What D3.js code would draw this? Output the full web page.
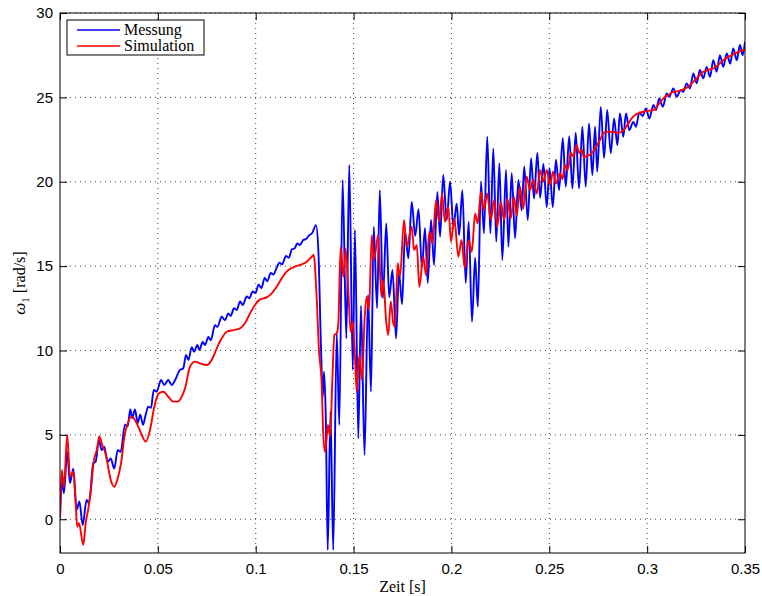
<html>
<head>
	<meta charset="UTF-8">
	<title>Messung vs. Simulation</title>
	<style>
		body { margin: 0; background: #fff; }
		.tick text { font-family: "Liberation Sans", Arial, sans-serif; font-size: 15px; fill: #000; }
		.grid line { stroke: #444; stroke-width: 1; stroke-dasharray: 1,4; }
		.label { font-family: "Liberation Serif", "Times New Roman", serif; font-size: 16px; }
	</style>
</head>
<body>
	<script src="https://cdnjs.cloudflare.com/ajax/libs/d3/7.8.5/d3.min.js"></script>
	<script>
		// Messung
		var messungT = [0, 0.0009, 0.0020, 0.0037, 0.0051, 0.0068, 0.0085, 0.0099, 0.0116, 0.0136, 0.0148, 0.0170, 0.0182, 0.0199,
			0.0213, 0.0226, 0.0244, 0.0259, 0.0277, 0.0295, 0.0310, 0.0332, 0.0346, 0.0359, 0.0369, 0.0383, 0.0397, 0.0410,
			0.0424, 0.0438, 0.0451, 0.0465, 0.0479, 0.0494, 0.0516, 0.0533, 0.0553, 0.0571, 0.0588, 0.0613, 0.0630, 0.0644,
			0.0656, 0.0673, 0.0685, 0.0702, 0.0712, 0.0729, 0.0741, 0.0758, 0.0770, 0.0792, 0.0804, 0.0826, 0.0843, 0.0860,
			0.0872, 0.0889, 0.0903, 0.0920, 0.0934, 0.0954, 0.0967, 0.0985, 0.0998, 0.1015, 0.1029, 0.1046, 0.1059, 0.1077,
			0.1090, 0.1107, 0.1121, 0.1134, 0.1155, 0.1169, 0.1185, 0.1199, 0.1212, 0.1226, 0.1243, 0.1257, 0.1274, 0.1288,
			0.1308, 0.1320, 0.1333, 0.1343, 0.1349, 0.1358, 0.1368, 0.1382, 0.1396, 0.1414, 0.1427, 0.1444, 0.1463, 0.1478,
			0.1496, 0.1507, 0.1524, 0.1538, 0.1556, 0.1574, 0.1589, 0.1603, 0.1620, 0.1634, 0.1650, 0.1667, 0.1682, 0.1699,
			0.1717, 0.1732, 0.1748, 0.1763, 0.1780, 0.1797, 0.1815, 0.1832, 0.1849, 0.1865, 0.1879, 0.1896, 0.1911, 0.1928,
			0.1942, 0.1958, 0.1976, 0.1993, 0.2010, 0.2027, 0.2039, 0.2056, 0.2073, 0.2088, 0.2105, 0.2121, 0.2135, 0.2151,
			0.2166, 0.2183, 0.2199, 0.2214, 0.2229, 0.2245, 0.2260, 0.2279, 0.2291, 0.2308, 0.2325, 0.2342, 0.2359, 0.2372,
			0.2390, 0.2407, 0.2422, 0.2439, 0.2453, 0.2470, 0.2487, 0.2501, 0.2518, 0.2534, 0.2550, 0.2569, 0.2584, 0.2602,
			0.2618, 0.2635, 0.2652, 0.2669, 0.2686, 0.2703, 0.2720, 0.2734, 0.2745, 0.2763, 0.2780, 0.2796, 0.2814, 0.2831,
			0.2848, 0.2861, 0.2878, 0.2892, 0.2909, 0.2929, 0.2943, 0.2960, 0.2977, 0.2994, 0.3011, 0.3032, 0.3045, 0.3062,
			0.3080, 0.3100, 0.3113, 0.3134, 0.3151, 0.3172, 0.3185, 0.3202, 0.3219, 0.3236, 0.3253, 0.3270, 0.3287, 0.3304,
			0.3321, 0.3338, 0.3355, 0.3372, 0.3389, 0.3407, 0.3424, 0.3440, 0.3458, 0.3474, 0.3488, 0.3500];
		var messungW = [0.06, 2.3, 1.55, 4.0, 2.15, 3.0, 0.55, 1.05, -0.34, 1.15, 0.95, 3.33, 3.4, 4.7,
			4.1, 4.3, 3.4, 3.6, 3.0, 4.1, 4.0, 5.6, 5.5, 6.5, 6.0, 6.5, 5.7, 6.2,
			5.6, 6.2, 6.67, 6.6, 7.66, 7.56, 8.25, 7.96, 8.25, 7.96, 8.25, 8.85, 8.95, 9.73,
			9.44, 10.2, 9.93, 10.33, 10.03, 10.5, 10.33, 10.8, 10.6, 11.5, 11.4, 12.0, 11.8, 12.2,
			12.05, 12.5, 12.4, 12.9, 12.7, 13.2, 13.1, 13.5, 13.4, 13.9, 13.7, 14.3, 14.1, 14.6,
			14.5, 14.9, 15.2, 15.1, 15.6, 15.5, 16.0, 16.05, 16.35, 16.25, 16.55, 16.6, 16.84, 16.95,
			17.43, 15.95, 10.43, 7.26, 8.74, 6.08, -1.82, 6.37, -1.82, 11.0, 5.59, 20.1, 10.72, 21.0,
			8.85, 17.14, 4.8, 12.65, 3.81, 13.29, 7.56, 17.33, 12.5, 19.5, 13.1, 17.53, 13.15, 14.77,
			10.72, 14.6, 12.75, 17.03, 15.46, 18.8, 16.8, 18.37, 14.9, 17.24, 14.0, 17.73, 15.06, 19.4,
			16.74, 20.4, 17.73, 20.0, 17.33, 18.7, 16.84, 19.5, 14.0, 17.63, 11.7, 15.5, 12.6, 20.0,
			16.94, 22.67, 16.94, 21.98, 16.45, 21.1, 15.36, 20.7, 16.15, 20.5, 16.65, 20.1, 18.3, 20.9,
			17.73, 21.4, 19.0, 21.7, 19.05, 21.05, 18.5, 20.8, 18.5, 21.3, 19.5, 22.6, 19.7, 22.7,
			19.6, 22.9, 19.6, 23.26, 19.7, 23.46, 20.4, 23.26, 20.6, 24.44, 21.4, 24.25, 21.7, 23.75,
			22.17, 24.05, 22.67, 24.05, 23.06, 23.55, 23.26, 24.1, 23.9, 24.35, 23.75, 24.55, 24.25, 24.94,
			24.44, 25.24, 25.04, 25.53, 25.04, 25.43, 25.33, 25.83, 25.53, 26.42, 25.83, 26.62, 26.13, 26.81,
			26.22, 27.2, 26.52, 27.5, 26.81, 27.6, 27.0, 27.9, 27.2, 28.1, 27.5, 28.3];

		// Simulation
		var simT = [0, 0.0009, 0.0020, 0.0037, 0.0051, 0.0068, 0.0080, 0.0088, 0.0097, 0.0119, 0.0131, 0.0145, 0.0158, 0.0172,
			0.0188, 0.0201, 0.0216, 0.0230, 0.0244, 0.0257, 0.0277, 0.0295, 0.0312, 0.0329, 0.0346, 0.0366, 0.0392, 0.0414,
			0.0438, 0.0460, 0.0482, 0.0506, 0.0528, 0.0553, 0.0579, 0.0601, 0.0622, 0.0639, 0.0664, 0.0690, 0.0715, 0.0750,
			0.0775, 0.0801, 0.0826, 0.0852, 0.0886, 0.0920, 0.0945, 0.0971, 0.0996, 0.1022, 0.1056, 0.1082, 0.1107, 0.1133,
			0.1158, 0.1192, 0.1226, 0.1261, 0.1286, 0.1296, 0.1312, 0.1323, 0.1337, 0.1345, 0.1354, 0.1363, 0.1369, 0.1380,
			0.1391, 0.1402, 0.1414, 0.1422, 0.1434, 0.1448, 0.1460, 0.1473, 0.1485, 0.1496, 0.1507, 0.1516, 0.1529, 0.1543,
			0.1557, 0.1567, 0.1579, 0.1593, 0.1604, 0.1626, 0.1642, 0.1652, 0.1666, 0.1677, 0.1690, 0.1703, 0.1712, 0.1725,
			0.1737, 0.1758, 0.1771, 0.1797, 0.1809, 0.1823, 0.1836, 0.1856, 0.1870, 0.1887, 0.1904, 0.1921, 0.1937, 0.1952,
			0.1967, 0.1984, 0.1998, 0.2015, 0.2035, 0.2052, 0.2068, 0.2088, 0.2104, 0.2121, 0.2134, 0.2151, 0.2166, 0.2183,
			0.2201, 0.2218, 0.2234, 0.2252, 0.2269, 0.2286, 0.2303, 0.2320, 0.2334, 0.2350, 0.2367, 0.2385, 0.2401, 0.2418,
			0.2436, 0.2453, 0.2469, 0.2487, 0.2504, 0.2519, 0.2534, 0.2555, 0.2567, 0.2580, 0.2594, 0.2610, 0.2623, 0.2640,
			0.2653, 0.2666, 0.2677, 0.2694, 0.2708, 0.2722, 0.2739, 0.2759, 0.2776, 0.2793, 0.2810, 0.2831, 0.2853, 0.2870,
			0.2887, 0.2904, 0.2921, 0.2938, 0.2955, 0.2980, 0.3006, 0.3032, 0.3057, 0.3083, 0.3108, 0.3134, 0.3160, 0.3185,
			0.3210, 0.3236, 0.3261, 0.3287, 0.3312, 0.3338, 0.3363, 0.3389, 0.3415, 0.3440, 0.3466, 0.3500];
		var simW = [0.06, 2.92, 1.93, 5.0, 2.52, 2.82, 0.95, -0.44, -0.24, -1.52, -0.24, 0.65, 1.74, 3.41,
			4.1, 4.9, 4.4, 4.0, 3.22, 2.43, 1.93, 2.43, 3.32, 4.9, 5.69, 6.08, 5.69, 5.1,
			4.6, 5.29, 6.67, 7.46, 7.56, 7.26, 6.97, 6.97, 7.26, 7.76, 9.04, 9.34, 9.24, 9.14,
			9.44, 10.13, 10.72, 11.11, 11.21, 11.31, 11.61, 12.2, 12.7, 13.03, 13.15, 13.39, 13.78, 14.28,
			14.67, 14.93, 15.07, 15.26, 15.56, 15.66, 13.0, 10.03, 8.06, 5.1, 4.0, 4.9, 5.59, 4.9,
			8.06, 10.92, 11.02, 11.61, 16.15, 14.37, 16.05, 13.58, 11.11, 11.7, 9.63, 7.56, 9.73, 8.25,
			12.0, 13.19, 12.4, 16.84, 15.36, 16.84, 13.19, 14.18, 11.8, 10.92, 12.9, 11.61, 11.4, 15.17,
			14.37, 17.73, 16.15, 17.33, 15.95, 16.25, 13.78, 15.56, 14.47, 17.04, 16.35, 18.9, 17.63, 19.3,
			17.63, 18.5, 16.45, 17.83, 15.56, 16.55, 14.87, 16.55, 15.85, 18.1, 17.53, 19.4, 18.3, 19.3,
			17.73, 18.9, 17.33, 18.8, 17.73, 19.0, 17.83, 19.1, 18.0, 19.7, 18.42, 20.3, 19.5, 20.1,
			19.3, 20.7, 20.0, 20.7, 19.8, 20.6, 19.9, 20.5, 20.15, 21.0, 20.7, 21.7, 21.5, 22.17,
			21.7, 21.9, 21.45, 21.55, 21.6, 21.75, 22.07, 22.47, 22.87, 22.96, 22.96, 22.93, 22.9, 22.96,
			23.16, 23.46, 23.75, 23.95, 24.05, 24.15, 24.2, 24.25, 24.55, 24.94, 25.14, 25.33, 25.37, 25.47,
			25.63, 25.92, 26.22, 26.52, 26.62, 26.72, 26.92, 27.2, 27.4, 27.55, 27.7, 27.84];

		var xTicks = [0, 0.05, 0.1, 0.15, 0.2, 0.25, 0.3, 0.35];
		var xTickLabels = ["0", "0.05", "0.1", "0.15", "0.2", "0.25", "0.3", "0.35"];
		var yTicks = [0, 5, 10, 15, 20, 25, 30];
		var yTickLabels = ["0", "5", "10", "15", "20", "25", "30"];
		var seriesNames = ["Messung", "Simulation"];
		var seriesColors = ["#0000ff", "#ff0000"];

		var margin = {top: 13, right: 17, bottom: 43, left: 60},
			width = 762 - margin.left - margin.right,
			height = 596 - margin.top - margin.bottom;

		var x = d3.scaleLinear().domain([0, 0.35]).range([0, width]);
		var y = d3.scaleLinear().domain([-2, 30]).range([height, 0]);

		var svg = d3.select("body").append("svg")
			.attr("width", 762)
			.attr("height", 596)
			.append("g")
				.attr("transform", "translate(" + margin.left + "," + margin.top + ")");

		svg.append("clipPath").attr("id", "plot-clip")
			.append("rect").attr("width", width).attr("height", height);

		// dotted grid
		var grid = svg.append("g").attr("class", "grid");
		grid.selectAll(".gx").data(xTicks.slice(1, -1)).enter().append("line")
			.attr("x1", function(d) { return x(d); }).attr("x2", function(d) { return x(d); })
			.attr("y1", 0).attr("y2", height);
		grid.selectAll(".gy").data(yTicks).enter().append("line")
			.attr("y1", function(d) { return y(d); }).attr("y2", function(d) { return y(d); })
			.attr("x1", 0).attr("x2", width);

		var line = d3.line()
			.x(function(d) { return x(d[0]); })
			.y(function(d) { return y(d[1]); })
			.curve(d3.curveMonotoneX);

		var series = [d3.zip(messungT, messungW), d3.zip(simT, simW)];

		svg.append("g").attr("clip-path", "url(#plot-clip)")
			.selectAll("path")
			.data(series)
			.enter().append("path")
			.attr("d", line)
			.attr("fill", "none")
			.attr("stroke", function(d, i) { return seriesColors[i]; })
			.attr("stroke-width", 1.9)
			.attr("stroke-linejoin", "round");

		// axes, ticks pointing inward like matlab
		svg.append("g")
			.attr("transform", "translate(0," + height + ")")
			.call(d3.axisBottom(x).tickValues(xTicks)
				.tickFormat(function(d, i) { return xTickLabels[i]; })
				.tickSize(-7).tickPadding(10));
		svg.append("g")
			.call(d3.axisLeft(y).tickValues(yTicks)
				.tickFormat(function(d, i) { return yTickLabels[i]; })
				.tickSize(-7).tickPadding(7));
		svg.append("g")
			.call(d3.axisTop(x).tickValues(xTicks).tickFormat("").tickSize(-7));
		svg.append("g")
			.attr("transform", "translate(" + width + ",0)")
			.call(d3.axisRight(y).tickValues(yTicks).tickFormat("").tickSize(-7));

		svg.selectAll(".domain").remove();
		svg.selectAll(".tick line").attr("stroke", "#000");
		svg.append("rect")
			.attr("width", width).attr("height", height)
			.attr("fill", "none").attr("stroke", "#000").attr("stroke-width", 1);

		// axis labels
		svg.append("text").attr("class", "label")
			.attr("x", width / 2).attr("y", height + 39)
			.attr("text-anchor", "middle")
			.text("Zeit [s]");

		var yl = svg.append("text").attr("class", "label")
			.attr("transform", "translate(-35," + (height / 2) + ") rotate(-90)")
			.attr("text-anchor", "middle");
		yl.append("tspan").attr("font-style", "italic").attr("font-size", "17px").text("ω");
		yl.append("tspan").attr("font-size", "11px").attr("dy", 4).text("1");
		yl.append("tspan").attr("dy", -4).text(" [rad/s]");

		// legend
		var legend = svg.append("g").attr("transform", "translate(7,7)");
		legend.append("rect")
			.attr("width", 137).attr("height", 35)
			.attr("fill", "#fff").attr("stroke", "#000").attr("stroke-width", 1);
		var items = legend.selectAll(".item").data(seriesNames).enter().append("g")
			.attr("transform", function(d, i) { return "translate(0," + (10 + i * 16) + ")"; });
		items.append("line")
			.attr("x1", 10).attr("x2", 53)
			.attr("stroke", function(d, i) { return seriesColors[i]; })
			.attr("stroke-width", 1.6);
		items.append("text").attr("class", "label")
			.attr("x", 57).attr("dy", "0.33em")
			.text(function(d) { return d; });
	</script>
</body>
</html>
